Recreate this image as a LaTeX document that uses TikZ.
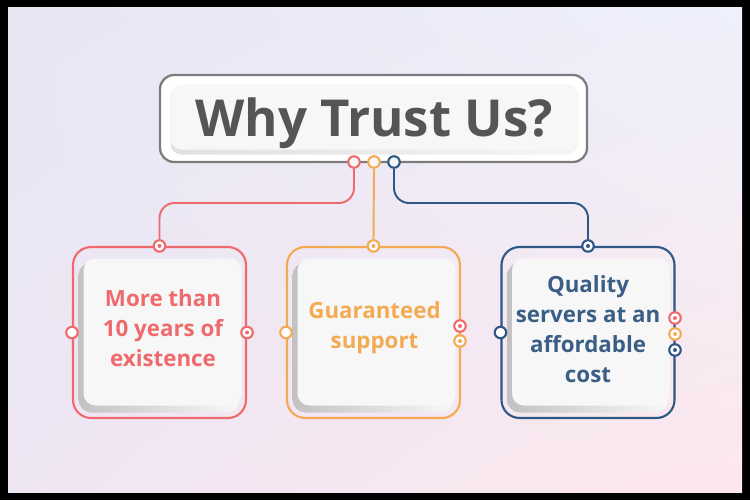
\documentclass[tikz,border=0pt]{standalone}
\usepackage{fontspec}
\setmainfont{Open Sans}
\usetikzlibrary{calc,shadings}

\definecolor{trustred}{HTML}{EE6A6D}
\definecolor{trustorange}{HTML}{F4AA52}
\definecolor{trustblue}{HTML}{2E5786}
\definecolor{trustbluetext}{HTML}{3B5E87}
\definecolor{titlegray}{HTML}{555555}
\definecolor{framegray}{HTML}{7C7C7C}
\definecolor{facegray}{HTML}{F7F7F7}
\definecolor{bgtl}{HTML}{E6E6F3}
\definecolor{bgtr}{HTML}{EEF0FB}
\definecolor{bgbl}{HTML}{EFE6F4}
\definecolor{bgbr}{HTML}{FDE7EC}

\tikzset{
  card/.style={draw=#1, line width=1.2pt, rounded corners=0.36cm,
    minimum width=3.46cm, minimum height=3.42cm, inner sep=0pt},
  ring/.style={circle, draw=#1, line width=1.2pt, fill=white,
    minimum size=0.23cm, inner sep=0pt},
  dotring/.style={ring=#1, path picture={
    \fill[#1] (path picture bounding box.center) circle (0.04cm);}},
  link/.style={draw=#1, line width=1.1pt, rounded corners=0.3cm},
  cardtext/.style={font=\bfseries\fontsize{12.7}{17}\selectfont,
    align=center, text=#1, inner sep=0pt},
  shadowbox/.style={rounded corners=0.26cm, left color=black!24, right color=black!3},
  facebox/.style={fill=facegray, rounded corners=0.24cm}
}

\begin{document}
\begin{tikzpicture}[x=0.02cm, y=-0.02cm]
  \useasboundingbox (0,0) rectangle (750,500);
  % frame and background
  \fill[black] (0,0) rectangle (750,500);
  \shade[upper left=bgtl, upper right=bgtr, lower left=bgbl, lower right=bgbr]
    (8,8) rectangle (742,492);

  % title
  \node[draw=framegray, line width=1.3pt, rounded corners=0.28cm, fill=white,
    minimum width=8.54cm, minimum height=1.74cm] (title) at (373.5,118.5) {};
  \shade[rounded corners=0.22cm, left color=black!12, right color=black!4]
    ($(title.center)+(-203,-32)$) rectangle ($(title.center)+(204,36)$);
  \fill[facegray, rounded corners=0.22cm]
    ($(title.center)+(-203,-34)$) rectangle ($(title.center)+(205,31)$);
  \node[text=titlegray, font=\bfseries\fontsize{29}{35}\selectfont]
    (titletext) at (374,123) {Why Trust Us?};

  % cards
  \foreach \name/\cx/\col in {cardA/159.5/trustred, cardB/373.5/trustorange, cardC/588/trustblue}{
    \node[card=\col] (\name) at (\cx,332.5) {};
    \shade[shadowbox] ($(\name.center)+(-81,-70)$) rectangle ($(\name.center)+(80,80)$);
    \fill[facebox] ($(\name.center)+(-76,-74)$) rectangle ($(\name.center)+(82,73)$);
  }

  \node[cardtext=trustred] (textA) at (163,328) {More than\\10 years of\\existence};
  \node[cardtext=trustorange] (textB) at (374.5,328) {Guaranteed\\support};
  \node[cardtext=trustbluetext] (textC) at (588,329) {Quality\\servers at an\\affordable\\cost};

  % rings on title
  \node[ring=trustred, fill=facegray] (tr) at (354,162) {};
  \node[ring=trustorange, fill=facegray] (to) at (374,162) {};
  \node[ring=trustblue, fill=facegray] (tb) at (394,162) {};

  % rings on cards
  \node[dotring=trustred] (rAt) at (cardA.north) {};
  \node[ring=trustred] (rAl) at (cardA.west) {};
  \node[dotring=trustred] (rAr) at (cardA.east) {};

  \node[dotring=trustorange] (rBt) at (cardB.north) {};
  \node[ring=trustorange] (rBl) at (cardB.west) {};
  \node[dotring=trustred] (rBr1) at (460,326) {};
  \node[dotring=trustorange] (rBr2) at (460,341) {};

  \node[dotring=trustblue] (rCt) at (cardC.north) {};
  \node[ring=trustblue] (rCl) at (cardC.west) {};
  \node[dotring=trustred] (rCr1) at (675,318) {};
  \node[dotring=trustorange] (rCr2) at (675,334) {};
  \node[dotring=trustblue] (rCr3) at (675,350) {};

  % links
  \coordinate (bend) at (0,203);
  \draw[link=trustred] (tr.south) -- (tr.south |- bend) -| (rAt.north);
  \draw[link=trustorange] (to.south) -- (rBt.north);
  \draw[link=trustblue] (tb.south) -- (tb.south |- bend) -| (rCt.north);
\end{tikzpicture}
\end{document}
